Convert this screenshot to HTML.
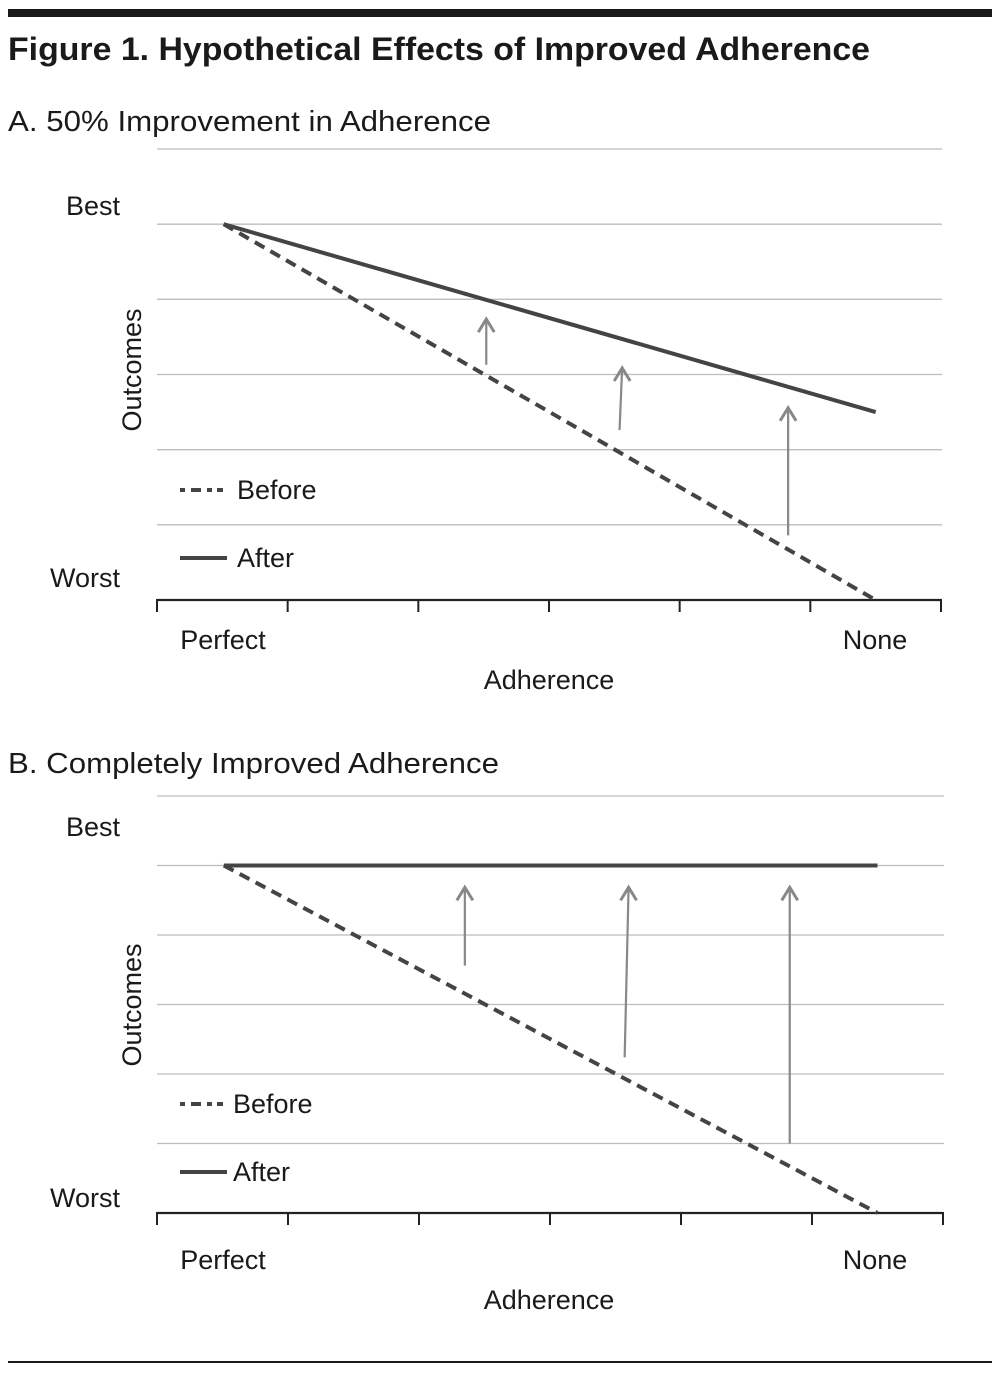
<!DOCTYPE html>
<html><head><meta charset="utf-8">
<style>
body{margin:0;background:#fff;}
svg{display:block;font-family:"Liberation Sans",sans-serif;}
</style></head>
<body>
<svg id="fig" width="1000" height="1378" viewBox="0 0 1000 1378">
<rect x="8" y="9" width="984" height="8" fill="#1a1a1a"/>
<text x="8" y="60" font-size="32" font-weight="bold" fill="#1a1a1a" textLength="862" lengthAdjust="spacingAndGlyphs">Figure 1. Hypothetical Effects of Improved Adherence</text>
<text x="8" y="131" font-size="29" fill="#1a1a1a" textLength="483" lengthAdjust="spacingAndGlyphs">A. 50% Improvement in Adherence</text>
<text x="8" y="773" font-size="29" fill="#1a1a1a" textLength="491" lengthAdjust="spacingAndGlyphs">B. Completely Improved Adherence</text>
<rect x="8" y="1361" width="984" height="2" fill="#1a1a1a"/>
</svg>
<script>
// shared data
const xTicks = [0,1,2,3,4,5,6];
const yGrid = [1,2,3,4,5,6];
const lineX = [0.51, 5.5];
// Panel A
const aBefore = [5, 0];
const aAfter = [5, 2.5];
const aArrowX0 = [2.52, 3.54, 4.83];
const aArrowX1 = [2.52, 3.56, 4.83];
const aArrowFrom = [3.13, 2.26, 0.86];
const aArrowTo = [3.75, 3.1, 2.57];
// Panel B
const bBefore = [5, 0];
const bAfter = [5, 5];
const bArrowX0 = [2.35, 3.57, 4.83];
const bArrowX1 = [2.35, 3.6, 4.83];
const bArrowFrom = [3.56, 2.24, 1.0];
const bArrowTo = [4.7, 4.7, 4.7];

const NS = "http://www.w3.org/2000/svg";
const svg = document.getElementById('fig');
function mk(tag, attrs, parent){const e=document.createElementNS(NS,tag);for(const k in attrs)e.setAttribute(k,attrs[k]);(parent||svg).appendChild(e);return e;}

function panel(p, before, after, ax0, ax1, af, at, legY1, legY2, legTx){
  const xs = v => p.x0 + (p.x1 - p.x0) * v / 6;
  const ys = v => p.yb - (p.yb - p.yt) * v / 6;
  const g = mk('g', {});
  
  
  yGrid.forEach(v => {
    const l = mk('line', {x1:p.x0, x2:p.x1+1, y1:ys(v), y2:ys(v), stroke:'#bdbdbd', 'stroke-width':1.3}, g);
    
    
  });
  const ax = mk('line', {x1:p.x0, x2:p.x1, y1:p.yb, y2:p.yb, stroke:'#222', 'stroke-width':2.2}, g);
  
  
  xTicks.forEach(v => {
    const t = mk('line', {x1:xs(v), x2:xs(v), y1:p.yb-1, y2:p.yb+12, stroke:'#222', 'stroke-width':2}, g);
    
    
  });
  const bl = mk('line', {x1:xs(lineX[0]), y1:ys(before[0]), x2:xs(lineX[1]), y2:ys(before[1]), stroke:'#444', 'stroke-width':4, 'stroke-dasharray':'11 7'}, g);
  
  
  const al = mk('line', {x1:xs(lineX[0]), y1:ys(after[0]), x2:xs(lineX[1]), y2:ys(after[1]), stroke:'#444', 'stroke-width':4}, g);
  
  
  for (let i=0;i<ax0.length;i++){
    const x0=xs(ax0[i]), x1=xs(ax1[i]), y0=ys(af[i]), y1=ys(at[i]);
    const a = mk('g', {stroke:'#888', fill:'none', 'stroke-width':2.2}, g);
    
    
    mk('line', {x1:x0, y1:y0, x2:x1, y2:y1}, a);
    mk('polyline', {points:`${x1-8},${y1+14} ${x1},${y1+1} ${x1+8},${y1+14}`, 'stroke-width':3}, a);
  }
  const txt = (s, x, y, name, anchor, extra) => {
    const t = mk('text', Object.assign({x:x, y:y, 'font-size':27, fill:'#1a1a1a', 'text-anchor':anchor||'start'}, extra||{}), g);
    t.textContent = s;
    
    
    return t;
  };
  txt('Best', 120, p.bestY, 'y-label-best', 'end');
  txt('Worst', 120, p.worstY, 'y-label-worst', 'end');
  txt('Perfect', 223, p.yb+p.lblOff, 'x-label-perfect', 'middle');
  txt('None', 875, p.yb+p.lblOff, 'x-label-none', 'middle');
  txt('Adherence', 549, p.yb+p.lblOff+40, 'x-axis-title', 'middle');
  txt('Outcomes', 0, 0, 'y-axis-title', 'middle', {transform:`translate(141,${p.outY}) rotate(-90)`});
  const l1 = mk('line', {x1:180, x2:228, y1:legY1, y2:legY1, stroke:'#444', 'stroke-width':4, 'stroke-dasharray':'5 6 10 6 5'}, g);
  
  
  txt('Before', legTx, legY1+9, 'legend-before-label');
  const l2 = mk('line', {x1:180, x2:227, y1:legY2, y2:legY2, stroke:'#444', 'stroke-width':4}, g);
  
  
  txt('After', legTx, legY2+9, 'legend-after-label');
}
panel({name:'panel-a-chart', x0:157, x1:941, yt:149, yb:600, bestY:215, worstY:587, outY:370, lblOff:49},
  aBefore, aAfter, aArrowX0, aArrowX1, aArrowFrom, aArrowTo, 490, 558, 237);
panel({name:'panel-b-chart', x0:157, x1:943, yt:796, yb:1213, bestY:836, worstY:1207, outY:1005, lblOff:56},
  bBefore, bAfter, bArrowX0, bArrowX1, bArrowFrom, bArrowTo, 1104, 1172, 233);
</script>
</body></html>
